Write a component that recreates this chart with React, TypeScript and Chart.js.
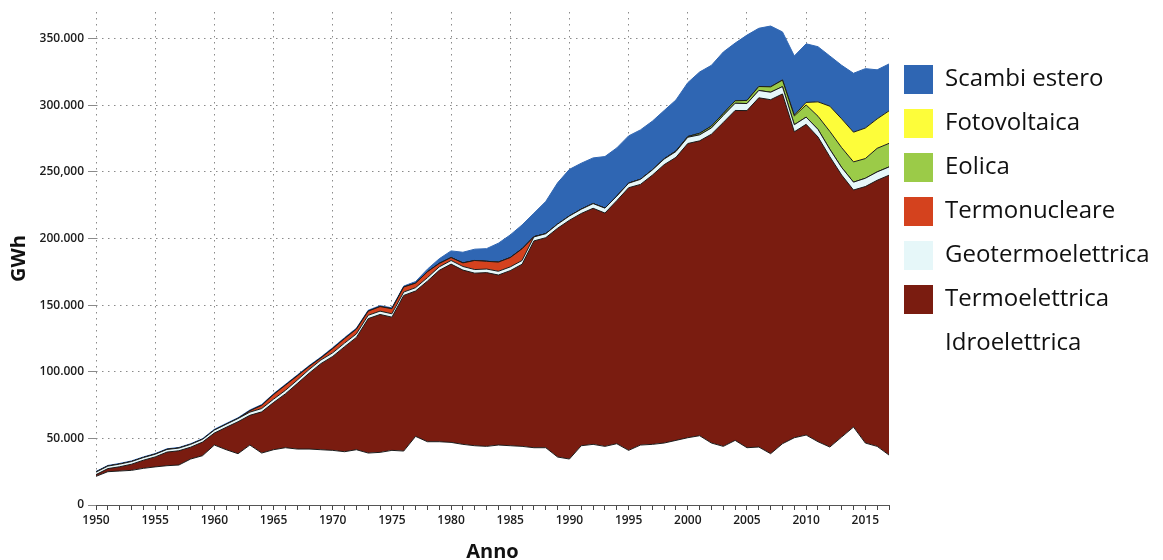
import React, { useEffect, useRef } from "react";
import { Chart, registerables } from "chart.js";

Chart.register(...registerables);

const years = [
  1950, 1951, 1952, 1953, 1954, 1955, 1956, 1957, 1958, 1959,
  1960, 1961, 1962, 1963, 1964, 1965, 1966, 1967, 1968, 1969,
  1970, 1971, 1972, 1973, 1974, 1975, 1976, 1977, 1978, 1979,
  1980, 1981, 1982, 1983, 1984, 1985, 1986, 1987, 1988, 1989,
  1990, 1991, 1992, 1993, 1994, 1995, 1996, 1997, 1998, 1999,
  2000, 2001, 2002, 2003, 2004, 2005, 2006, 2007, 2008, 2009,
  2010, 2011, 2012, 2013, 2014, 2015, 2016, 2017,
];

const idroelettrica = [
  21500, 25000, 25500, 26000, 27500, 28600, 29500, 30000, 34500, 37000,
  45000, 41500, 38500, 45000, 39000, 41500, 43000, 42000, 42000, 41500,
  41000, 40000, 41500, 39000, 39500, 41000, 40500, 51500, 47500, 47500,
  47000, 45500, 44500, 44000, 45000, 44500, 44000, 43000, 43000, 36000,
  34500, 44500, 45500, 44000, 46000, 41000, 45000, 45500, 46500, 48500,
  50500, 52000, 46500, 44000, 48500, 43000, 43500, 38500, 46000, 50500,
  52500, 47500, 43500, 51000, 58500, 46500, 44000, 37500,
];

const termoelettrica = [
  1300, 2300, 3200, 4600, 6100, 7500, 10200, 10700, 8900, 10200,
  9000, 16800, 24000, 22300, 30900, 35400, 40400, 49100, 56900, 64600,
  70500, 78800, 84300, 100900, 103500, 100000, 116800, 109100, 120500, 128600,
  133800, 130800, 129500, 130400, 127600, 131400, 136700, 155200, 157600, 171700,
  179200, 174300, 177200, 175100, 182400, 197100, 195600, 202000, 208900, 212400,
  220800, 221300, 231800, 243100, 247600, 253000, 262100, 265700, 262500, 229600,
  233200, 228700, 217900, 196600, 177900, 192500, 199700, 210000,
];

const geotermoelettrica = [
  1900, 1900, 2000, 2000, 2000, 2000, 2000, 2000, 2100, 2100,
  2200, 2300, 2400, 2400, 2500, 2500, 2600, 2600, 2700, 2700,
  2700, 2700, 2600, 2500, 2500, 2500, 2500, 2500, 2600, 2600,
  2700, 2700, 2700, 2700, 2800, 2800, 2800, 3000, 3000, 3100,
  3200, 3200, 3500, 3700, 3400, 3400, 3800, 3900, 4200, 4400,
  4700, 4500, 4700, 5300, 5400, 5300, 5500, 5600, 5500, 5300,
  5400, 5700, 5600, 5700, 5900, 6200, 6300, 6200,
];

const termonucleare = [
  0, 0, 0, 0, 0, 0, 0, 0, 0, 0,
  0, 0, 0, 1000, 2400, 3500, 3900, 3200, 2400, 1600,
  3200, 3400, 3600, 3100, 3400, 3800, 3800, 3400, 4400, 2600,
  2200, 2700, 6800, 5800, 6900, 7000, 8800, 200, 0, 0,
  0, 0, 0, 0, 0, 0, 0, 0, 0, 0,
  0, 0, 0, 0, 0, 0, 0, 0, 0, 0,
  0, 0, 0, 0, 0, 0, 0, 0,
];

const eolica = [
  0, 0, 0, 0, 0, 0, 0, 0, 0, 0,
  0, 0, 0, 0, 0, 0, 0, 0, 0, 0,
  0, 0, 0, 0, 0, 0, 0, 0, 0, 0,
  0, 0, 0, 0, 0, 0, 0, 0, 0, 0,
  0, 0, 0, 0, 0, 10, 30, 120, 230, 400,
  560, 1180, 1400, 1460, 1850, 2350, 2970, 4030, 4860, 6540,
  9130, 9860, 13400, 14900, 15200, 14800, 17700, 17700,
];

const fotovoltaica = [
  0, 0, 0, 0, 0, 0, 0, 0, 0, 0,
  0, 0, 0, 0, 0, 0, 0, 0, 0, 0,
  0, 0, 0, 0, 0, 0, 0, 0, 0, 0,
  0, 0, 0, 0, 0, 0, 0, 0, 0, 0,
  0, 0, 0, 0, 0, 0, 0, 0, 0, 0,
  0, 0, 0, 0, 0, 0, 0, 40, 200, 680,
  1900, 10800, 18900, 21600, 22300, 22900, 22100, 24400,
];

const scambiEstero = [
  500, 500, 500, 500, 500, 500, 500, 500, 500, 500,
  600, 600, 600, 600, 600, 600, 600, 600, 600, 600,
  700, 700, 700, 700, 700, 700, 700, 1200, 2000, 3500,
  5000, 8000, 8500, 9500, 14200, 17000, 17900, 17600, 24200, 31000,
  35000, 34500, 34300, 38700, 36200, 35500, 37100, 36500, 36200, 38300,
  40400, 46000, 45600, 46100, 43300, 49000, 43700, 45600, 36000, 44400,
  44000, 41400, 37700, 40200, 44200, 44600, 36800, 35200,
];

const yTickValues = [0, 50000, 100000, 150000, 200000, 250000, 300000, 350000];
const yTickLabels = ["0", "50.000", "100.000", "150.000", "200.000", "250,000", "300.000", "350.000"];

const seriesLabels = [
  "Idroelettrica",
  "Termoelettrica",
  "Geotermoelettrica",
  "Termonucleare",
  "Eolica",
  "Fotovoltaica",
  "Scambi estero",
];
const seriesValues = [
  idroelettrica,
  termoelettrica,
  geotermoelettrica,
  termonucleare,
  eolica,
  fotovoltaica,
  scambiEstero,
];
const seriesColors = ["#ffffff", "#7a1c10", "#e6f7f9", "#d4421e", "#9bcb48", "#fdfd3a", "#2f66b3"];
const seriesBorders = ["#1a1a1a", "#1a1a1a", "#1a1a1a", "#1a1a1a", "#1a1a1a", "#1a1a1a", "#2f66b3"];

const FONT = "'Open Sans', 'Noto Sans', sans-serif";

export default function App() {
  const ref = useRef<HTMLCanvasElement>(null);

  useEffect(() => {
    if (!ref.current) return;

    const legendWidthPlugin = {
      id: "legendWidthFix",
      beforeUpdate(chart: any) {
        const lg = chart.legend;
        if (lg && !lg.__patched) {
          const orig = lg.fit.bind(lg);
          lg.fit = function () {
            orig();
            this.width = 274;
          };
          lg.__patched = true;
        }
      },
    };

    const datasets = seriesLabels.map((label, i) => ({
      label,
      data: years.map((x, j) => ({ x, y: seriesValues[i][j] })),
      backgroundColor: seriesColors[i],
      borderColor: seriesBorders[i],
      borderWidth: 1,
      fill: i === 0 ? "origin" : "-1",
      pointRadius: 0,
      pointHoverRadius: 0,
      tension: 0,
    }));

    const chart = new Chart(ref.current, {
      type: "line",
      data: { datasets },
      plugins: [legendWidthPlugin],
      options: {
        animation: false,
        responsive: true,
        maintainAspectRatio: false,
        layout: { padding: { top: 12, left: 0, right: 0, bottom: 0 } },
        scales: {
          x: {
            type: "linear",
            min: 1950,
            max: 2017,
            ticks: {
              stepSize: 1,
              autoSkip: false,
              maxRotation: 0,
              padding: 3,
              color: "#1a1a1a",
              font: { family: FONT, size: 12, weight: "600" },
              callback: (v: any) => (Number(v) % 5 === 0 ? String(v) : ""),
            },
            grid: {
              color: (ctx: any) =>
                ctx.tick && Number(ctx.tick.value) % 5 === 0 ? "#8a8a8a" : "rgba(0,0,0,0)",
              tickColor: "#444",
              tickLength: 5,
              lineWidth: 1,
            },
            border: { display: true, color: "#555", width: 1, dash: [1.5, 4.5] },
            title: {
              display: true,
              text: "Anno",
              color: "#111",
              font: { family: FONT, size: 20, weight: "bold", lineHeight: 0.8 },
              padding: { top: 0, bottom: 0 },
            },
            afterFit: (s: any) => {
              s.height = 55;
            },
          },
          y: {
            stacked: true,
            min: 0,
            max: 370000,
            afterBuildTicks: (s: any) => {
              s.ticks = yTickValues.map((v) => ({ value: v }));
            },
            ticks: {
              padding: 4,
              color: "#1a1a1a",
              font: { family: FONT, size: 12, weight: "600" },
              callback: (v: any) => {
                const k = yTickValues.indexOf(Number(v));
                return k >= 0 ? yTickLabels[k] : "";
              },
            },
            grid: {
              color: "#8a8a8a",
              tickColor: "#8a8a8a",
              tickLength: 8,
              lineWidth: 1,
            },
            border: { display: false, dash: [1.5, 4.5] },
            title: {
              display: true,
              text: "GWh",
              color: "#111",
              font: { family: FONT, size: 20, weight: "bold", lineHeight: 1.2 },
              padding: { top: 7, bottom: 0 },
            },
            afterFit: (s: any) => {
              s.width = 96;
            },
          },
        },
        plugins: {
          tooltip: { enabled: false },
          legend: {
            position: "right",
            align: "start",
            reverse: true,
            title: {
              display: true,
              text: " ",
              color: "rgba(0,0,0,0)",
              font: { size: 10, lineHeight: 1.2 },
              padding: { top: 26, bottom: 0 },
            },
            labels: {
              boxWidth: 29,
              boxHeight: 29,
              padding: 15,
              color: "#111",
              font: { family: FONT, size: 24 },
              generateLabels: (chart: any) => {
                const items = Chart.defaults.plugins.legend.labels.generateLabels(chart);
                return items.map((it: any) => ({
                  ...it,
                  strokeStyle: it.fillStyle,
                  lineWidth: 0,
                }));
              },
            },
          },
        },
      } as any,
    });

    return () => chart.destroy();
  }, []);

  return (
    <div style={{ position: "absolute", left: 0, top: 0, width: 1163, height: 560 }}>
      <canvas ref={ref} />
    </div>
  );
}
